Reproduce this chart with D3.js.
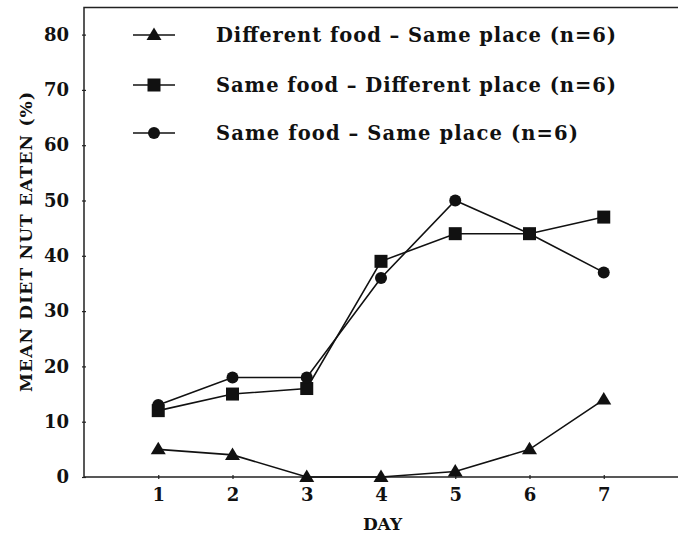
<!DOCTYPE html>
<html><head><meta charset="utf-8">
<script src="https://cdn.jsdelivr.net/npm/d3@7"></script>
<style>body{margin:0;background:#fff}svg{display:block}</style>
</head><body>
<script>
const days = [1,2,3,4,5,6,7];
const diffFoodSamePlace = [5,4,0,0,1,5,14];
const sameFoodDiffPlace = [12,15,16,39,44,44,47];
const sameFoodSamePlace = [13,18,18,36,50,44,37];
const yTicks = [0,10,20,30,40,50,60,70,80];
const seriesNames = ["Different food  \u2013  Same place (n=6)","Same food  \u2013  Different place (n=6)","Same food  \u2013  Same place (n=6)"];
const seriesShapes = ["triangle","square","circle"];
const seriesData = [diffFoodSamePlace, sameFoodDiffPlace, sameFoodSamePlace];

(function(){
const W=678,H=535;
const svg=d3.select("body").append("svg").attr("width",W).attr("height",H);
const F="'DejaVu Serif', serif";
const x=d3.scaleLinear().domain([0,8]).range([84,678]);
const y=d3.scaleLinear().domain([0,80]).range([477,34.6]);
const frameTop=7.5;
const ink="#111";

// frame
svg.append("path").attr("d",`M${x(8)},${frameTop}H84V${y(0)}H${x(8)}`).attr("fill","none").attr("stroke","#222").attr("stroke-width",1.5);

// y axis ticks
const yAx=d3.axisLeft(y).tickValues(yTicks).tickSize(3).tickPadding(13).tickSizeOuter(0);
const gy=svg.append("g").attr("transform","translate(84,0)").call(yAx);
gy.select(".domain").remove();
gy.selectAll(".tick line").attr("x2",-2).attr("x1",2).attr("stroke","#222").attr("stroke-width",1.2);
gy.selectAll(".tick text").attr("font-family",F).attr("font-weight","bold").attr("font-size",18).attr("fill",ink).attr("x",-15);

// x axis ticks
const xAx=d3.axisBottom(x).tickValues(days).tickSize(3).tickPadding(10).tickFormat(d3.format("d"));
const gx=svg.append("g").attr("transform",`translate(0,${y(0)})`).call(xAx);
gx.select(".domain").remove();
gx.selectAll(".tick line").attr("y1",-2).attr("y2",2).attr("stroke","#222").attr("stroke-width",1.2);
gx.selectAll(".tick text").attr("font-family",F).attr("font-weight","bold").attr("font-size",18).attr("fill",ink).attr("y",11);

// axis titles
svg.append("text").attr("x",382.5).attr("y",530).attr("text-anchor","middle").attr("font-family",F).attr("font-weight","bold").attr("font-size",17).attr("fill",ink).text("DAY");
svg.append("text").attr("transform","translate(31.5,242) rotate(-90)").attr("text-anchor","middle").attr("font-family",F).attr("font-weight","bold").attr("font-size",17).attr("fill",ink).attr("textLength",300).attr("lengthAdjust","spacing").text("MEAN DIET NUT EATEN (%)");

function marker(g,shape,cx,cy){
  if(shape==="triangle") g.append("path").attr("d",`M${cx},${cy-7.5}L${cx+7.5},${cy+5}L${cx-7.5},${cy+5}Z`).attr("fill",ink);
  else if(shape==="square") g.append("rect").attr("x",cx-6.5).attr("y",cy-6.5).attr("width",13).attr("height",13).attr("fill",ink);
  else g.append("circle").attr("cx",cx).attr("cy",cy).attr("r",6).attr("fill",ink);
}

const line=d3.line().x((d,i)=>x(days[i])).y(d=>y(d));
seriesData.forEach((s,k)=>{
  svg.append("path").attr("d",line(s)).attr("fill","none").attr("stroke",ink).attr("stroke-width",1.6);
  const g=svg.append("g");
  s.forEach((v,i)=>marker(g,seriesShapes[k],x(days[i]),y(v)));
});

// legend
const legY=[35,85,133];
const legLen=[400,400,362];
seriesNames.forEach((n,k)=>{
  svg.append("line").attr("x1",133).attr("x2",175).attr("y1",legY[k]).attr("y2",legY[k]).attr("stroke",ink).attr("stroke-width",1.6);
  marker(svg,seriesShapes[k],154,legY[k]);
  svg.append("text").attr("x",216).attr("y",legY[k]+7).attr("font-family",F).attr("font-weight","bold").attr("font-size",19.5).attr("fill",ink).attr("textLength",legLen[k]).attr("lengthAdjust","spacing").text(n);
});
})();
</script>
</body></html>
